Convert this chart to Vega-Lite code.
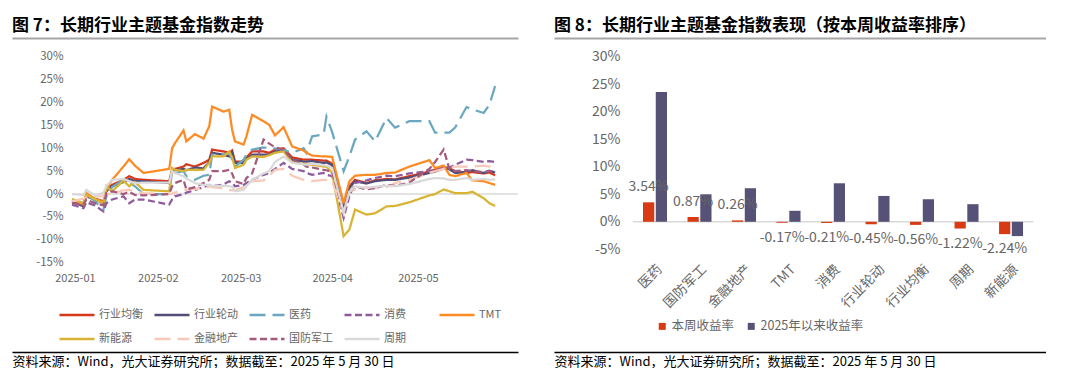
{
  "$schema": "https://vega.github.io/schema/vega-lite/v6.json",
  "padding": {"left": 12, "top": 17, "right": 0, "bottom": 0},
  "background": "white",
  "spacing": 35,
  "resolve": {"scale": {"color": "independent", "strokeDash": "independent"}, "legend": {"color": "independent", "strokeDash": "independent"}},
  "config": {"font": "Noto Sans CJK SC", "view": {"stroke": null}, "axis": {"grid": false}},
  "hconcat": [
    {
      "width": 506,
      "height": 314,
      "title": {"text": "图 7：长期行业主题基金指数走势", "anchor": "start", "frame": "group", "fontSize": 17, "fontWeight": "bold", "color": "#000000", "offset": -14, "baseline": "bottom"},
      "data": {"values": [
        {"date":"2025-01-02","行业均衡":-1.6,"行业轮动":-1.6,"医药":-1.2,"消费":-2.3,"TMT":-1.2,"新能源":-1.1,"金融地产":-1.6,"国防军工":-2.0,"周期":0.0},
        {"date":"2025-01-06","行业均衡":-2.3,"行业轮动":-2.7,"医药":-2.0,"消费":-3.1,"TMT":-2.3,"新能源":-2.0,"金融地产":-1.0,"国防军工":-2.3,"周期":-0.2},
        {"date":"2025-01-07","行业均衡":0.0,"行业轮动":-0.5,"医药":0.2,"消费":-1.8,"TMT":0.2,"新能源":-0.2,"金融地产":-0.8,"国防军工":-1.2,"周期":0.9},
        {"date":"2025-01-10","行业均衡":-1.0,"行业轮动":-1.2,"医药":-1.6,"消费":-2.5,"TMT":-1.1,"新能源":-1.1,"金融地产":-0.5,"国防军工":-2.0,"周期":-0.3},
        {"date":"2025-01-13","行业均衡":-1.6,"行业轮动":-2.0,"医药":-3.4,"消费":-3.8,"TMT":-1.8,"新能源":-2.0,"金融地产":-0.5,"国防军工":-2.5,"周期":0.3},
        {"date":"2025-01-14","行业均衡":0.9,"行业轮动":0.6,"医药":-0.5,"消费":-2.0,"TMT":0.9,"新能源":1.7,"金融地产":0.0,"国防军工":0.2,"周期":1.7},
        {"date":"2025-01-16","行业均衡":2.0,"行业轮动":1.7,"医药":1.5,"消费":-1.2,"TMT":3.1,"新能源":0.6,"金融地产":0.2,"国防军工":0.6,"周期":3.1},
        {"date":"2025-01-20","行业均衡":3.1,"行业轮动":2.6,"医药":3.1,"消费":-0.5,"TMT":6.0,"新能源":2.9,"金融地产":0.8,"国防军工":0.0,"周期":3.3},
        {"date":"2025-01-22","行业均衡":3.9,"行业轮动":3.3,"医药":2.6,"消费":-2.0,"TMT":7.6,"新能源":1.7,"金融地产":0.9,"国防军工":0.5,"周期":2.8},
        {"date":"2025-01-24","行业均衡":3.3,"行业轮动":2.8,"医药":1.7,"消费":-1.2,"TMT":6.2,"新能源":2.6,"金融地产":0.6,"国防军工":-0.2,"周期":2.4},
        {"date":"2025-01-27","行业均衡":3.1,"行业轮动":2.8,"医药":0.0,"消费":-1.2,"TMT":4.6,"新能源":0.9,"金融地产":0.2,"国防军工":-0.3,"周期":2.5},
        {"date":"2025-02-05","行业均衡":2.8,"行业轮动":2.4,"医药":0.0,"消费":-2.3,"TMT":5.5,"新能源":0.6,"金融地产":0.0,"国防军工":0.0,"周期":2.5},
        {"date":"2025-02-06","行业均衡":5.3,"行业轮动":5.0,"医药":5.0,"消费":-1.2,"TMT":10.0,"新能源":5.7,"金融地产":0.1,"国防军工":1.7,"周期":5.0},
        {"date":"2025-02-07","行业均衡":5.5,"行业轮动":5.2,"医药":4.6,"消费":-0.5,"TMT":11.1,"新能源":5.3,"金融地产":0.3,"国防军工":2.4,"周期":4.6},
        {"date":"2025-02-10","行业均衡":6.0,"行业轮动":5.5,"医药":5.0,"消费":0.0,"TMT":13.9,"新能源":5.0,"金融地产":0.9,"国防军工":3.1,"周期":3.9},
        {"date":"2025-02-11","行业均衡":6.5,"行业轮动":5.2,"医药":3.9,"消费":0.3,"TMT":11.5,"新能源":5.3,"金融地产":0.9,"国防军工":1.0,"周期":3.4},
        {"date":"2025-02-14","行业均衡":6.0,"行业轮动":5.8,"医药":3.1,"消费":0.9,"TMT":13.1,"新能源":5.3,"金融地产":1.2,"国防军工":1.5,"周期":2.4},
        {"date":"2025-02-17","行业均衡":6.8,"行业轮动":5.6,"医药":4.0,"消费":1.5,"TMT":12.1,"新能源":5.3,"金融地产":1.1,"国防军工":2.4,"周期":2.0},
        {"date":"2025-02-19","行业均衡":7.5,"行业轮动":7.0,"医药":4.2,"消费":2.0,"TMT":14.8,"新能源":6.8,"金融地产":1.7,"国防军工":3.1,"周期":2.0},
        {"date":"2025-02-20","行业均衡":9.7,"行业轮动":9.0,"医药":8.6,"消费":1.7,"TMT":19.1,"新能源":8.2,"金融地产":1.5,"国防军工":5.0,"周期":1.8},
        {"date":"2025-02-24","行业均衡":9.3,"行业轮动":8.6,"医药":8.6,"消费":2.1,"TMT":18.0,"新能源":8.2,"金融地产":1.2,"国防军工":5.0,"周期":1.8},
        {"date":"2025-02-26","行业均衡":9.0,"行业轮动":8.2,"医药":9.0,"消费":2.8,"TMT":18.4,"新能源":9.3,"金融地产":0.9,"国防军工":5.3,"周期":1.7},
        {"date":"2025-02-27","行业均衡":9.5,"行业轮动":9.1,"医药":7.5,"消费":2.5,"TMT":14.0,"新能源":8.0,"金融地产":0.8,"国防军工":4.5,"周期":1.6},
        {"date":"2025-02-28","行业均衡":7.1,"行业轮动":6.8,"医药":6.0,"消费":1.7,"TMT":11.5,"新能源":5.7,"金融地产":0.8,"国防军工":2.8,"周期":0.6},
        {"date":"2025-03-03","行业均衡":7.1,"行业轮动":6.8,"医药":7.5,"消费":2.0,"TMT":10.8,"新能源":6.4,"金融地产":1.5,"国防军工":2.2,"周期":0.9},
        {"date":"2025-03-04","行业均衡":8.0,"行业轮动":7.6,"医药":8.6,"消费":2.4,"TMT":12.6,"新能源":7.5,"金融地产":2.0,"国防军工":3.5,"周期":1.7},
        {"date":"2025-03-06","行业均衡":9.3,"行业轮动":8.6,"医药":9.7,"消费":3.1,"TMT":17.3,"新能源":8.2,"金融地产":2.8,"国防军工":4.5,"周期":3.1},
        {"date":"2025-03-10","行业均衡":9.3,"行业轮动":8.6,"医药":10.2,"消费":4.2,"TMT":15.9,"新能源":8.1,"金融地产":3.0,"国防军工":11.9,"周期":4.5},
        {"date":"2025-03-12","行业均衡":9.0,"行业轮动":8.6,"医药":10.0,"消费":4.6,"TMT":15.1,"新能源":8.5,"金融地产":4.0,"国防军工":11.0,"周期":5.0},
        {"date":"2025-03-14","行业均衡":9.7,"行业轮动":9.3,"医药":10.0,"消费":5.5,"TMT":12.8,"新能源":9.0,"金融地产":5.3,"国防军工":10.2,"周期":7.0},
        {"date":"2025-03-17","行业均衡":10.0,"行业轮动":9.5,"医药":9.6,"消费":6.8,"TMT":14.6,"新能源":9.3,"金融地产":5.5,"国防军工":9.7,"周期":8.2},
        {"date":"2025-03-20","行业均衡":8.0,"行业轮动":7.5,"医药":9.0,"消费":5.5,"TMT":10.4,"新能源":7.0,"金融地产":4.0,"国防军工":7.5,"周期":6.8},
        {"date":"2025-03-24","行业均衡":7.5,"行业轮动":7.1,"医药":10.0,"消费":5.0,"TMT":9.5,"新能源":6.6,"金融地产":3.1,"国防军工":6.5,"周期":6.5},
        {"date":"2025-03-25","行业均衡":7.5,"行业轮动":7.1,"医药":9.0,"消费":4.6,"TMT":9.0,"新能源":6.5,"金融地产":3.0,"国防军工":6.0,"周期":6.4},
        {"date":"2025-03-27","行业均衡":7.5,"行业轮动":7.2,"医药":12.6,"消费":4.2,"TMT":8.4,"新能源":6.4,"金融地产":2.8,"国防军工":5.8,"周期":6.6},
        {"date":"2025-03-31","行业均衡":7.3,"行业轮动":6.8,"医药":13.0,"消费":4.6,"TMT":8.2,"新能源":6.0,"金融地产":3.1,"国防军工":5.3,"周期":6.3},
        {"date":"2025-04-01","行业均衡":7.3,"行业轮动":6.9,"医药":16.9,"消费":4.2,"TMT":8.2,"新能源":6.0,"金融地产":3.1,"国防军工":5.2,"周期":6.2},
        {"date":"2025-04-03","行业均衡":6.6,"行业轮动":6.3,"医药":13.5,"消费":3.9,"TMT":8.1,"新能源":4.6,"金融地产":2.8,"国防军工":4.8,"周期":5.7},
        {"date":"2025-04-07","行业均衡":-3.0,"行业轮动":-3.5,"医药":5.0,"消费":-5.2,"TMT":-2.0,"新能源":-9.2,"金融地产":-4.2,"国防军工":-4.0,"周期":-4.0},
        {"date":"2025-04-09","行业均衡":1.7,"行业轮动":1.3,"医药":8.2,"消费":-0.5,"TMT":2.8,"新能源":-7.8,"金融地产":0.5,"国防军工":0.5,"周期":0.5},
        {"date":"2025-04-11","行业均衡":3.1,"行业轮动":2.8,"医药":11.9,"消费":2.4,"TMT":4.0,"新能源":-3.4,"金融地产":1.0,"国防军工":1.7,"周期":1.7},
        {"date":"2025-04-15","行业均衡":2.4,"行业轮动":2.3,"医药":13.7,"消费":3.0,"TMT":4.2,"新能源":-4.5,"金融地产":1.5,"国防军工":1.0,"周期":1.3},
        {"date":"2025-04-18","行业均衡":3.0,"行业轮动":2.8,"医药":11.5,"消费":3.5,"TMT":4.2,"新能源":-4.2,"金融地产":1.3,"国防军工":1.3,"周期":1.6},
        {"date":"2025-04-22","行业均衡":3.3,"行业轮动":3.1,"医药":16.6,"消费":4.0,"TMT":4.6,"新能源":-2.7,"金融地产":1.5,"国防军工":2.0,"周期":1.8},
        {"date":"2025-04-25","行业均衡":3.2,"行业轮动":3.1,"医药":14.5,"消费":3.9,"TMT":4.7,"新能源":-2.6,"金融地产":2.4,"国防军工":1.8,"周期":1.7},
        {"date":"2025-04-30","行业均衡":3.9,"行业轮动":3.6,"医药":15.9,"消费":4.5,"TMT":6.0,"新能源":-1.8,"金融地产":3.1,"国防军工":2.5,"周期":2.2},
        {"date":"2025-05-07","行业均衡":4.9,"行业轮动":4.6,"医药":15.9,"消费":5.0,"TMT":7.4,"新能源":-0.3,"金融地产":4.6,"国防军工":5.5,"周期":3.3},
        {"date":"2025-05-09","行业均衡":5.3,"行业轮动":4.9,"医药":13.4,"消费":5.3,"TMT":5.7,"新能源":0.0,"金融地产":5.0,"国防军工":7.0,"周期":3.5},
        {"date":"2025-05-12","行业均衡":5.9,"行业轮动":5.6,"医药":13.4,"消费":6.0,"TMT":6.2,"新能源":1.0,"金融地产":5.5,"国防军工":9.7,"周期":3.4},
        {"date":"2025-05-14","行业均衡":5.6,"行业轮动":5.4,"医药":13.4,"消费":5.8,"TMT":4.2,"新能源":0.6,"金融地产":5.8,"国防军工":5.5,"周期":3.1},
        {"date":"2025-05-16","行业均衡":5.0,"行业轮动":4.6,"医药":14.5,"消费":6.4,"TMT":3.9,"新能源":0.2,"金融地产":6.0,"国防军工":5.0,"周期":3.1},
        {"date":"2025-05-20","行业均衡":4.6,"行业轮动":4.8,"医药":19.0,"消费":7.5,"TMT":4.6,"新能源":0.2,"金融地产":6.0,"国防军工":5.2,"周期":3.5},
        {"date":"2025-05-22","行业均衡":4.8,"行业轮动":5.2,"医药":18.5,"消费":7.4,"TMT":3.0,"新能源":0.5,"金融地产":6.0,"国防军工":5.0,"周期":3.1},
        {"date":"2025-05-26","行业均衡":4.5,"行业轮动":4.6,"医药":17.7,"消费":7.0,"TMT":2.8,"新能源":-0.9,"金融地产":6.2,"国防军工":4.8,"周期":3.3},
        {"date":"2025-05-28","行业均衡":4.7,"行业轮动":5.1,"医药":19.5,"消费":7.2,"TMT":2.4,"新能源":-2.0,"金融地产":6.0,"国防军工":5.0,"周期":3.1},
        {"date":"2025-05-30","行业均衡":4.1,"行业轮动":4.7,"医药":23.6,"消费":7.0,"TMT":2.0,"新能源":-2.6,"金融地产":6.1,"国防军工":5.0,"周期":3.2}
      ]},
      "resolve": {"axis": {"x": "independent", "y": "independent"}},
      "layer": [
        {
          "data": {"values": [{"v": 0}]},
          "mark": {"type": "rule", "color": "#d9d9d9", "strokeWidth": 1},
          "encoding": {
            "x": {"datum": {"year": 2025, "month": 1, "date": 2, "utc": true}, "type": "temporal",
                  "scale": {"type": "utc", "domain": [{"year": 2024, "month": 12, "date": 12, "utc": true}, {"year": 2025, "month": 6, "date": 7, "utc": true}]},
                  "axis": {"orient": "top", "domain": true, "domainColor": "#a6a6a6", "domainWidth": 2, "labels": false, "ticks": false, "title": null, "minExtent": 0, "maxExtent": 0}},
            "x2": {"datum": {"year": 2025, "month": 6, "date": 7, "utc": true}},
            "y": {"datum": 0, "type": "quantitative", "scale": {"domain": [-34.5, 34.08], "nice": false, "zero": false}, "axis": null}
          }
        },
        {
          "data": {"values": [{"v": 0}]},
          "mark": {"type": "rule", "color": "#d9d9d9", "strokeWidth": 1},
          "encoding": {
            "x": {"datum": {"year": 2025, "month": 1, "date": 2, "utc": true}, "type": "temporal",
                  "scale": {"type": "utc", "domain": [{"year": 2024, "month": 12, "date": 12, "utc": true}, {"year": 2025, "month": 6, "date": 7, "utc": true}]},
                  "axis": {"orient": "bottom", "domain": true, "domainColor": "#000000", "domainWidth": 1.5, "labels": false, "ticks": false, "minExtent": 0,
                           "title": "资料来源：Wind，光大证券研究所；数据截至：2025 年 5 月 30 日", "titleAnchor": "start", "titleAlign": "left", "titleBaseline": "top",
                           "titlePadding": 3, "titleFontSize": 13, "titleFontWeight": "normal", "titleColor": "#000000"}},
            "x2": {"datum": {"year": 2025, "month": 6, "date": 7, "utc": true}},
            "y": {"datum": 0, "type": "quantitative", "scale": {"domain": [-34.5, 34.08], "nice": false, "zero": false}, "axis": null}
          }
        },
        {
          "transform": [{"fold": ["行业均衡", "行业轮动", "医药", "消费", "TMT", "新能源", "金融地产", "国防军工", "周期"], "as": ["series", "value"]}],
          "mark": {"type": "line", "strokeWidth": 2.25},
          "encoding": {
            "x": {"field": "date", "type": "temporal",
                  "scale": {"type": "utc", "domain": [{"year": 2024, "month": 12, "date": 12, "utc": true}, {"year": 2025, "month": 6, "date": 7, "utc": true}]},
                  "axis": {"orient": "bottom", "offset": -82, "domain": false, "ticks": false, "labelPadding": 2, "labelFontSize": 11, "labelColor": "#666666", "title": null,
                           "labelExpr": "utcFormat(datum.value, '%Y-%m')",
                           "values": [{"year": 2025, "month": 1, "date": 3, "utc": true}, {"year": 2025, "month": 2, "date": 1, "utc": true}, {"year": 2025, "month": 3, "date": 2, "utc": true}, {"year": 2025, "month": 4, "date": 3, "utc": true}, {"year": 2025, "month": 5, "date": 3, "utc": true}]}},
            "y": {"field": "value", "type": "quantitative", "scale": {"domain": [-34.5, 34.08], "nice": false, "zero": false},
                  "axis": {"orient": "left", "offset": -60, "values": [-15, -10, -5, 0, 5, 10, 15, 20, 25, 30], "labelExpr": "datum.value + '%'", "domain": false, "ticks": false, "labelPadding": 9, "labelFontSize": 11.5, "labelColor": "#666666", "title": null}},
            "color": {"field": "series", "type": "nominal",
                      "scale": {"domain": ["行业均衡", "行业轮动", "医药", "消费", "TMT", "新能源", "金融地产", "国防军工", "周期"], "range": ["#d7381c", "#524e78", "#6ba8bf", "#8e5c9d", "#fd8a23", "#d9b432", "#f8c9b8", "#a45a7c", "#d9d9d9"]},
                      "legend": {"orient": "none", "legendX": 46, "legendY": 258, "direction": "horizontal", "columns": 5, "gridAlign": "all", "title": null, "padding": 0,
                                 "symbolType": "stroke", "symbolSize": 1225, "symbolStrokeWidth": 2.5, "labelFontSize": 11, "labelColor": "#666666", "labelOffset": 3, "columnPadding": 6, "rowPadding": 0,
                                 "encode": {"symbols": {"update": {"strokeDash": {"signal": "indexof(['医药','金融地产'], datum.value) >= 0 ? [14,7] : (indexof(['消费','国防军工'], datum.value) >= 0 ? [6,3.5] : [1,0])"}}}}}},
            "strokeDash": {"field": "series", "type": "nominal",
                           "scale": {"domain": ["行业均衡", "行业轮动", "医药", "消费", "TMT", "新能源", "金融地产", "国防军工", "周期"], "range": [[1, 0], [1, 0], [16, 7], [7, 3.5], [1, 0], [1, 0], [16, 7], [7, 3.5], [1, 0]]},
                           "legend": null}
          }
        }
      ]
    },
    {
      "width": 492,
      "height": 314,
      "title": {"text": "图 8：长期行业主题基金指数表现（按本周收益率排序）", "anchor": "start", "frame": "group", "fontSize": 17, "fontWeight": "bold", "color": "#000000", "offset": -14, "baseline": "bottom"},
      "data": {"values": [
        {"cat": "医药", "series": "本周收益率", "value": 3.54},
        {"cat": "医药", "series": "2025年以来收益率", "value": 23.6},
        {"cat": "国防军工", "series": "本周收益率", "value": 0.87},
        {"cat": "国防军工", "series": "2025年以来收益率", "value": 5.0},
        {"cat": "金融地产", "series": "本周收益率", "value": 0.26},
        {"cat": "金融地产", "series": "2025年以来收益率", "value": 6.1},
        {"cat": "TMT", "series": "本周收益率", "value": -0.17},
        {"cat": "TMT", "series": "2025年以来收益率", "value": 2.0},
        {"cat": "消费", "series": "本周收益率", "value": -0.21},
        {"cat": "消费", "series": "2025年以来收益率", "value": 7.0},
        {"cat": "行业轮动", "series": "本周收益率", "value": -0.45},
        {"cat": "行业轮动", "series": "2025年以来收益率", "value": 4.7},
        {"cat": "行业均衡", "series": "本周收益率", "value": -0.56},
        {"cat": "行业均衡", "series": "2025年以来收益率", "value": 4.1},
        {"cat": "周期", "series": "本周收益率", "value": -1.22},
        {"cat": "周期", "series": "2025年以来收益率", "value": 3.2},
        {"cat": "新能源", "series": "本周收益率", "value": -2.24},
        {"cat": "新能源", "series": "2025年以来收益率", "value": -2.6}
      ]},
      "resolve": {"axis": {"x": "independent", "y": "independent"}},
      "layer": [
        {
          "data": {"values": [{"v": 0}]},
          "mark": {"type": "rule", "color": "#d9d9d9", "strokeWidth": 1.5},
          "encoding": {
            "x": {"datum": "医药", "type": "nominal", "bandPosition": -0.4275,
                  "scale": {"type": "band", "domain": ["_a", "_b", "医药", "国防军工", "金融地产", "TMT", "消费", "行业轮动", "行业均衡", "周期", "新能源"], "paddingInner": 0.461, "paddingOuter": 0.258, "align": 0},
                  "axis": {"orient": "top", "domain": true, "domainColor": "#a6a6a6", "domainWidth": 2, "labels": false, "ticks": false, "title": null, "minExtent": 0, "maxExtent": 0}},
            "x2": {"datum": "新能源", "bandPosition": 1.4275},
            "y": {"datum": 0, "type": "quantitative", "scale": {"domain": [-23.66, 33.4], "nice": false, "zero": false}, "axis": null}
          }
        },
        {
          "mark": {"type": "bar"},
          "encoding": {
            "x": {"field": "cat", "type": "nominal",
                  "scale": {"type": "band", "domain": ["_a", "_b", "医药", "国防军工", "金融地产", "TMT", "消费", "行业轮动", "行业均衡", "周期", "新能源"], "paddingInner": 0.461, "paddingOuter": 0.258, "align": 0},
                  "axis": {"orient": "bottom", "offset": -93, "labelAngle": -45, "domain": false, "ticks": false, "labelPadding": 3, "labelFontSize": 13.5, "labelColor": "#666666", "title": null,
                           "labelExpr": "indexof(['_a','_b'], datum.value) >= 0 ? '' : datum.value"}},
            "xOffset": {"field": "series", "type": "nominal", "scale": {"domain": ["本周收益率", "2025年以来收益率"], "paddingInner": 0.12}},
            "y": {"field": "value", "type": "quantitative", "scale": {"domain": [-23.66, 33.4], "nice": false, "zero": false},
                  "axis": {"orient": "left", "offset": -77, "values": [-5, 0, 5, 10, 15, 20, 25, 30], "labelExpr": "datum.value + '%'", "domain": false, "ticks": false, "labelPadding": 11, "labelFontSize": 14, "labelColor": "#666666", "title": null}},
            "color": {"field": "series", "type": "nominal",
                      "scale": {"domain": ["本周收益率", "2025年以来收益率"], "range": ["#d83a14", "#565177"]},
                      "legend": {"orient": "none", "legendX": 102, "legendY": 282, "direction": "horizontal", "title": null, "padding": 0,
                                 "symbolType": "square", "symbolSize": 49, "symbolStrokeWidth": 0, "labelFontSize": 12.5, "labelColor": "#666666", "labelOffset": 3, "columnPadding": 10}}
          }
        },
        {
          "transform": [
            {"filter": "datum.series === '本周收益率' && datum.value >= 0"},
            {"calculate": "replace(format(datum.value, '.2f'), '−', '-') + '%'", "as": "label"}
          ],
          "mark": {"type": "text", "dy": -15, "fontSize": 14, "color": "#666666", "baseline": "middle", "align": "center"},
          "encoding": {
            "x": {"field": "cat", "type": "nominal",
                  "scale": {"type": "band", "domain": ["_a", "_b", "医药", "国防军工", "金融地产", "TMT", "消费", "行业轮动", "行业均衡", "周期", "新能源"], "paddingInner": 0.461, "paddingOuter": 0.258, "align": 0},
                  "axis": {"orient": "bottom", "domain": true, "domainColor": "#000000", "domainWidth": 1.5, "labels": false, "ticks": false, "minExtent": 0,
                           "title": "资料来源：Wind，光大证券研究所；数据截至：2025 年 5 月 30 日", "titleAnchor": "start", "titleAlign": "left", "titleBaseline": "top",
                           "titlePadding": 3, "titleFontSize": 13, "titleFontWeight": "normal", "titleColor": "#000000"}},
            "xOffset": {"field": "series", "type": "nominal", "scale": {"domain": ["本周收益率", "2025年以来收益率"], "paddingInner": 0.12}},
            "y": {"field": "value", "type": "quantitative", "scale": {"domain": [-23.66, 33.4], "nice": false, "zero": false}, "axis": null},
            "text": {"field": "label", "type": "nominal"}
          }
        },
        {
          "transform": [
            {"filter": "datum.series === '本周收益率' && datum.value < 0"},
            {"calculate": "replace(format(datum.value, '.2f'), '−', '-') + '%'", "as": "label"}
          ],
          "mark": {"type": "text", "dy": 15, "fontSize": 14, "color": "#666666", "baseline": "middle", "align": "center"},
          "encoding": {
            "x": {"field": "cat", "type": "nominal",
                  "scale": {"type": "band", "domain": ["_a", "_b", "医药", "国防军工", "金融地产", "TMT", "消费", "行业轮动", "行业均衡", "周期", "新能源"], "paddingInner": 0.461, "paddingOuter": 0.258, "align": 0},
                  "axis": null},
            "xOffset": {"field": "series", "type": "nominal", "scale": {"domain": ["本周收益率", "2025年以来收益率"], "paddingInner": 0.12}},
            "y": {"field": "value", "type": "quantitative", "scale": {"domain": [-23.66, 33.4], "nice": false, "zero": false}, "axis": null},
            "text": {"field": "label", "type": "nominal"}
          }
        }
      ]
    }
  ]
}
